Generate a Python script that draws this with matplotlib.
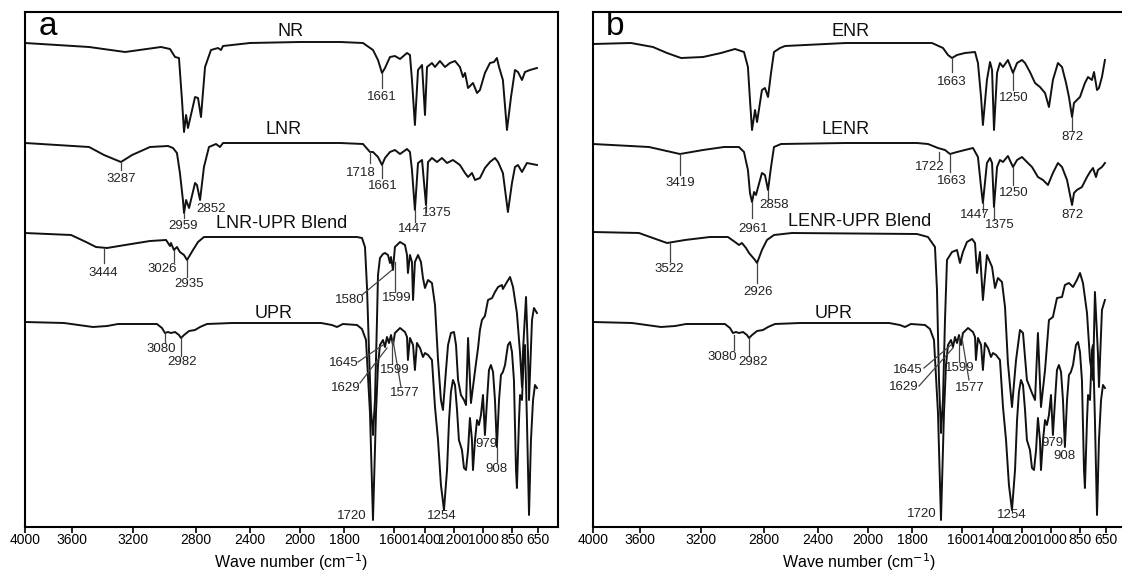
import numpy as np
import matplotlib.pyplot as plt
from matplotlib.ticker import NullLocator

plt.rcParams['font.family'] = ['Liberation Sans', 'DejaVu Sans']

# the printed wavenumber axis is uneven: breakpoints (cm-1) and their axis units
AXIS_WN = np.array([4400, 4000, 3600, 3200, 2800, 2400, 2000, 1800, 1600, 1400, 1200, 1000, 850, 650, 450])
AXIS_POS = np.array([-47, 0, 47, 108, 171, 225, 275, 319, 369, 400, 429, 458, 487, 513, 539])
TICKS = [4000, 3600, 3200, 2800, 2400, 2000, 1800, 1600, 1400, 1200, 1000, 850, 650]

# ---- spectra (wavenumber, offset transmittance a.u.) ----
nr_wn = [4000, 3488, 3252, 3022, 2965, 2933, 2908, 2889, 2876, 2863, 2851, 2806, 2785, 2763, 2733, 2689, 2637, 2615,
         2600, 2400, 2000, 1818, 1724, 1684, 1664, 1648, 1636, 1616, 1594, 1561, 1516, 1497, 1484, 1465, 1445, 1419,
         1400, 1386, 1352, 1331, 1297, 1262, 1228, 1193, 1159, 1138, 1124, 1103, 1069, 1041, 1021, 990, 964, 943, 928,
         917, 897, 876, 855, 827, 804, 773, 750, 712, 658]
nr_t = [484, 480, 475, 480, 478, 470, 469, 427, 395, 412, 399, 430, 429, 410, 460, 477, 479, 477, 481, 484, 485, 485,
        484, 477, 467, 454, 459, 470, 471, 468, 474, 472, 447, 402, 457, 462, 412, 460, 464, 460, 466, 460, 464, 466,
        460, 450, 454, 439, 444, 434, 437, 454, 464, 465, 469, 460, 447, 397, 430, 457, 455, 447, 455, 457, 459]

lnr_wn = [4000, 3488, 3390, 3279, 3206, 3092, 2978, 2946, 2921, 2902, 2883, 2876, 2863, 2844, 2806, 2793, 2770, 2741,
          2704, 2652, 2622, 2600, 2400, 2000, 1818, 1724, 1696, 1684, 1664, 1648, 1636, 1616, 1594, 1561, 1516, 1497,
          1484, 1465, 1445, 1419, 1393, 1379, 1352, 1317, 1283, 1248, 1207, 1159, 1124, 1103, 1076, 1055, 1021, 990,
          964, 938, 922, 897, 871, 850, 827, 804, 773, 735, 658]
lnr_t = [384, 380, 372, 365, 372, 380, 381, 379, 374, 354, 327, 314, 327, 319, 344, 342, 327, 360, 380, 383, 380, 384,
         384, 384, 384, 383, 375, 375, 370, 362, 369, 375, 377, 373, 378, 375, 357, 317, 364, 367, 322, 365, 369, 365,
         369, 364, 367, 362, 354, 350, 354, 347, 349, 359, 365, 369, 365, 354, 315, 344, 360, 362, 355, 364, 362]

blend_a_wn = [4000, 3608, 3508, 3443, 3370, 3252, 3092, 2990, 2965, 2959, 2940, 2921, 2902, 2876, 2857, 2819, 2785,
              2741, 2667, 2000, 1748, 1728, 1716, 1708, 1700, 1692, 1684, 1676, 1668, 1664, 1656, 1644, 1636, 1624,
              1616, 1612, 1604, 1594, 1561, 1529, 1516, 1510, 1497, 1484, 1477, 1465, 1445, 1426, 1413, 1400, 1379,
              1352, 1331, 1310, 1290, 1276, 1255, 1241, 1221, 1200, 1186, 1172, 1152, 1131, 1117, 1103, 1090, 1083,
              1069, 1048, 1034, 1021, 1007, 990, 974, 953, 938, 922, 902, 897, 876, 860, 842, 812, 788, 773, 765, 742,
              727, 719, 696, 681, 658]
blend_a_t = [294, 292, 285, 280, 279, 282, 286, 287, 281, 284, 277, 280, 275, 272, 267, 277, 285, 290, 290, 290, 290,
             289, 280, 240, 177, 117, 92, 127, 207, 252, 269, 273, 274, 272, 264, 270, 257, 280, 285, 282, 272, 254,
             272, 265, 227, 265, 272, 265, 249, 239, 247, 244, 222, 167, 127, 117, 157, 182, 194, 195, 182, 147, 132,
             127, 122, 189, 147, 124, 140, 164, 179, 197, 207, 211, 227, 229, 235, 240, 242, 238, 245, 250, 240, 214,
             174, 140, 177, 230, 174, 127, 207, 219, 214]

upr_wn = [4000, 3668, 3462, 3370, 3298, 3048, 3016, 2997, 2978, 2959, 2933, 2908, 2895, 2876, 2844, 2806, 2770, 2719,
          2533, 1904, 1855, 1832, 1805, 1748, 1728, 1712, 1696, 1684, 1672, 1664, 1656, 1644, 1636, 1628, 1620, 1612,
          1604, 1594, 1561, 1529, 1516, 1510, 1497, 1477, 1465, 1452, 1432, 1413, 1400, 1379, 1352, 1331, 1310, 1290,
          1269, 1248, 1234, 1221, 1207, 1193, 1179, 1166, 1145, 1131, 1117, 1103, 1090, 1076, 1069, 1055, 1041, 1028,
          1014, 1000, 990, 979, 969, 959, 948, 938, 928, 917, 907, 897, 886, 871, 860, 850, 835, 819, 812, 796, 788,
          773, 758, 750, 735, 719, 704, 688, 673, 658]
upr_t = [205, 204, 200, 201, 203, 203, 199, 194, 195, 194, 195, 192, 189, 192, 196, 197, 200, 203, 204, 204, 202, 200,
         203, 202, 198, 187, 114, 7, 114, 162, 182, 187, 180, 190, 184, 192, 182, 194, 199, 195, 190, 167, 189, 182,
         157, 184, 179, 170, 174, 172, 167, 120, 87, 42, 17, 57, 107, 135, 147, 142, 117, 87, 77, 59, 57, 77, 109, 87,
         57, 87, 107, 102, 112, 132, 92, 127, 157, 162, 155, 127, 80, 127, 152, 155, 162, 182, 185, 175, 147, 57, 39,
         107, 132, 127, 177, 182, 107, 12, 87, 127, 142, 139]

enr_wn = [4000, 3677, 3515, 3423, 3331, 3187, 3073, 2984, 2927, 2902, 2889, 2876, 2857, 2844, 2813, 2793, 2770, 2748,
          2726, 2681, 2644, 2176, 1780, 1720, 1676, 1656, 1640, 1620, 1581, 1516, 1497, 1477, 1465, 1439, 1419, 1406,
          1393, 1372, 1352, 1331, 1297, 1262, 1234, 1200, 1179, 1145, 1110, 1076, 1041, 1014, 990, 964, 943, 922, 907,
          891, 881, 866, 850, 812, 788, 758, 742, 719, 704, 681, 658]
enr_t = [483, 484, 480, 474, 469, 470, 474, 478, 475, 460, 427, 397, 417, 405, 437, 439, 430, 454, 475, 479, 481, 484,
         484, 484, 479, 472, 469, 472, 474, 475, 464, 430, 402, 447, 465, 457, 397, 454, 464, 460, 467, 454, 464, 467,
         464, 455, 444, 440, 434, 420, 447, 464, 460, 444, 430, 410, 424, 427, 430, 444, 450, 447, 455, 437, 439, 450,
         467]

lenr_wn = [4000, 3541, 3338, 3187, 3054, 2959, 2927, 2902, 2889, 2876, 2863, 2851, 2813, 2793, 2770, 2748, 2726, 2674,
           2176, 1780, 1736, 1696, 1668, 1648, 1620, 1581, 1529, 1497, 1477, 1465, 1439, 1419, 1406, 1393, 1372, 1352,
           1331, 1297, 1262, 1234, 1200, 1166, 1131, 1090, 1055, 1021, 990, 964, 943, 917, 891, 881, 866, 835, 796,
           773, 750, 727, 712, 681, 658]
lenr_t = [383, 380, 373, 377, 380, 380, 375, 357, 334, 325, 335, 332, 354, 352, 337, 360, 380, 383, 384, 384, 383, 379,
          377, 373, 375, 377, 379, 370, 340, 324, 364, 369, 364, 320, 360, 367, 365, 371, 360, 367, 370, 365, 360, 350,
          347, 342, 354, 364, 360, 347, 322, 334, 337, 340, 350, 355, 359, 350, 357, 360, 364]

blend_b_wn = [4000, 3609, 3515, 3423, 3305, 3143, 3029, 2984, 2959, 2940, 2914, 2895, 2857, 2844, 2813, 2778, 2726,
              2593, 1780, 1736, 1708, 1700, 1692, 1684, 1676, 1668, 1660, 1640, 1620, 1608, 1594, 1568, 1535, 1516,
              1503, 1484, 1465, 1439, 1406, 1386, 1366, 1338, 1317, 1297, 1269, 1241, 1214, 1193, 1166, 1131, 1110,
              1090, 1069, 1041, 1014, 990, 969, 943, 928, 907, 886, 866, 850, 827, 796, 773, 750, 735, 712, 704, 681,
              658]
blend_b_t = [295, 294, 289, 284, 287, 290, 290, 285, 282, 284, 279, 274, 267, 264, 277, 287, 292, 294, 293, 290, 280,
             237, 147, 94, 127, 207, 267, 275, 277, 264, 275, 285, 288, 284, 254, 275, 227, 272, 260, 239, 249, 245,
             220, 164, 120, 167, 197, 194, 147, 134, 127, 194, 120, 157, 207, 210, 229, 230, 242, 244, 240, 247, 254,
             244, 214, 167, 147, 235, 174, 140, 217, 227]

# sample names: (text, wn, height)
names_a = [("NR", 2072, 496), ("LNR", 2128, 397), ("LNR-UPR Blend", 2144, 303), ("UPR", 2208, 214)]
names_b = [("ENR", 2136, 496), ("LENR", 2176, 397), ("LENR-UPR Blend", 2064, 306), ("UPR", 2272, 214)]

# peak labels: (text, line from x0,y0 to x1,y1 or None, text x, text y)
peaks_a = [
    ("1661", (1648, 454, 1648, 439), 1648, 430),
    ("3287", (3279, 365, 3279, 357), 3279, 348),
    ("2959", (2876, 314, 2876, 309), 2883, 301),
    ("2852", None, 2689, 318),
    ("1718", (1696, 375, 1696, 364), 1732, 354),
    ("1661", (1648, 362, 1648, 349), 1644, 341),
    ("1447", (1465, 317, 1465, 305), 1477, 298),
    ("1375", (1393, 322, 1393, 315), 1317, 314),
    ("3444", (3390, 279, 3390, 264), 3397, 254),
    ("3026", (2940, 277, 2940, 265), 3016, 258),
    ("2935", (2857, 267, 2857, 250), 2844, 243),
    ("1580", (1608, 257, 1728, 232), 1776, 227),
    ("1599", (1594, 265, 1594, 235), 1581, 229),
    ("1645", (1644, 182, 1744, 165), 1800, 164),
    ("1629", (1628, 179, 1736, 144), 1792, 139),
    ("1599", (1608, 187, 1608, 163), 1594, 157),
    ("1577", (1604, 187, 1555, 140), 1529, 134),
    ("3080", (2997, 194, 2997, 184), 3022, 178),
    ("2982", (2895, 189, 2895, 171), 2889, 165),
    ("1720", None, 1768, 11),
    ("1254", None, 1283, 11),
    ("979", None, 984, 83),
    ("908", (928, 80, 928, 65), 928, 58),
]
peaks_b = [
    ("1663", (1640, 469, 1640, 455), 1640, 445),
    ("1250", (1262, 454, 1262, 437), 1255, 429),
    ("872", (891, 410, 891, 397), 891, 390),
    ("3419", (3338, 373, 3338, 352), 3338, 344),
    ("2961", (2876, 325, 2876, 309), 2870, 298),
    ("2858", (2770, 337, 2770, 327), 2726, 322),
    ("1722", (1692, 375, 1692, 367), 1728, 360),
    ("1663", (1648, 373, 1648, 355), 1640, 346),
    ("1250", (1262, 360, 1262, 342), 1255, 334),
    ("872", None, 891, 312),
    ("1447", (1465, 324, 1465, 315), 1516, 312),
    ("1375", (1393, 320, 1393, 307), 1352, 302),
    ("3522", (3403, 284, 3403, 265), 3410, 258),
    ("2926", (2844, 264, 2844, 244), 2838, 235),
    ("3080", (2990, 192, 2990, 177), 3067, 170),
    ("2982", (2895, 189, 2895, 171), 2870, 165),
    ("1645", (1644, 182, 1752, 159), 1818, 157),
    ("1629", (1636, 179, 1772, 141), 1836, 140),
    ("1599", (1612, 190, 1612, 165), 1608, 159),
    ("1577", (1600, 189, 1555, 147), 1548, 139),
    ("1720", None, 1760, 13),
    ("1254", None, 1269, 12),
    ("979", None, 995, 84),
    ("908", None, 928, 71),
]


# scale grows with wavenumber; the axis is then inverted (4000 on the left)
def wn_to_axis(w):
    return -np.interp(w, AXIS_WN[::-1], AXIS_POS[::-1])


def axis_to_wn(q):
    return np.interp(-np.asarray(q), AXIS_POS, AXIS_WN)


def draw_panel(ax, curves, names, peaks, letter):
    ax.set_xscale('function', functions=(wn_to_axis, axis_to_wn))
    for wn, t in curves:
        ax.plot(wn, t, color='#111111', lw=1.4, solid_joinstyle='round')
    for txt, x, y in names:
        ax.text(x, y, txt, fontsize=13, ha='center', va='center', color='#111111')
    for txt, line, tx, ty in peaks:
        if line is not None:
            x0, y0, x1, y1 = line
            ax.plot([x0, x1], [y0, y1], color='#444444', lw=0.9)
        ax.text(tx, ty, txt, fontsize=9.5, ha='center', va='center', color='#222222')
    ax.text(3808, 492, letter, fontsize=24, ha='center', va='baseline')
    ax.set_xlim(4000, 496)
    ax.set_ylim(0, 515)
    ax.set_xticks(TICKS)
    ax.set_xticklabels([str(t) for t in TICKS])
    ax.xaxis.set_minor_locator(NullLocator())
    ax.set_yticks([])
    ax.tick_params(axis='x', direction='out', length=4, width=1.2, labelsize=10, pad=0.5)
    for s in ax.spines.values():
        s.set_linewidth(1.5)
    ax.set_xlabel('Wave number (cm$^{-1}$)', fontsize=11.5, labelpad=3)


fig = plt.figure(figsize=(11.22, 5.71), dpi=100)
ax_a = fig.add_axes([25 / 1122, 44 / 571, 533 / 1122, 515 / 571])
ax_b = fig.add_axes([593 / 1122, 44 / 571, 533 / 1122, 515 / 571])

draw_panel(ax_a, [(nr_wn, nr_t), (lnr_wn, lnr_t), (blend_a_wn, blend_a_t), (upr_wn, upr_t)],
           names_a, peaks_a, 'a')
draw_panel(ax_b, [(enr_wn, enr_t), (lenr_wn, lenr_t), (blend_b_wn, blend_b_t), (upr_wn, upr_t)],
           names_b, peaks_b, 'b')

fig.savefig('out.png', dpi=100)
